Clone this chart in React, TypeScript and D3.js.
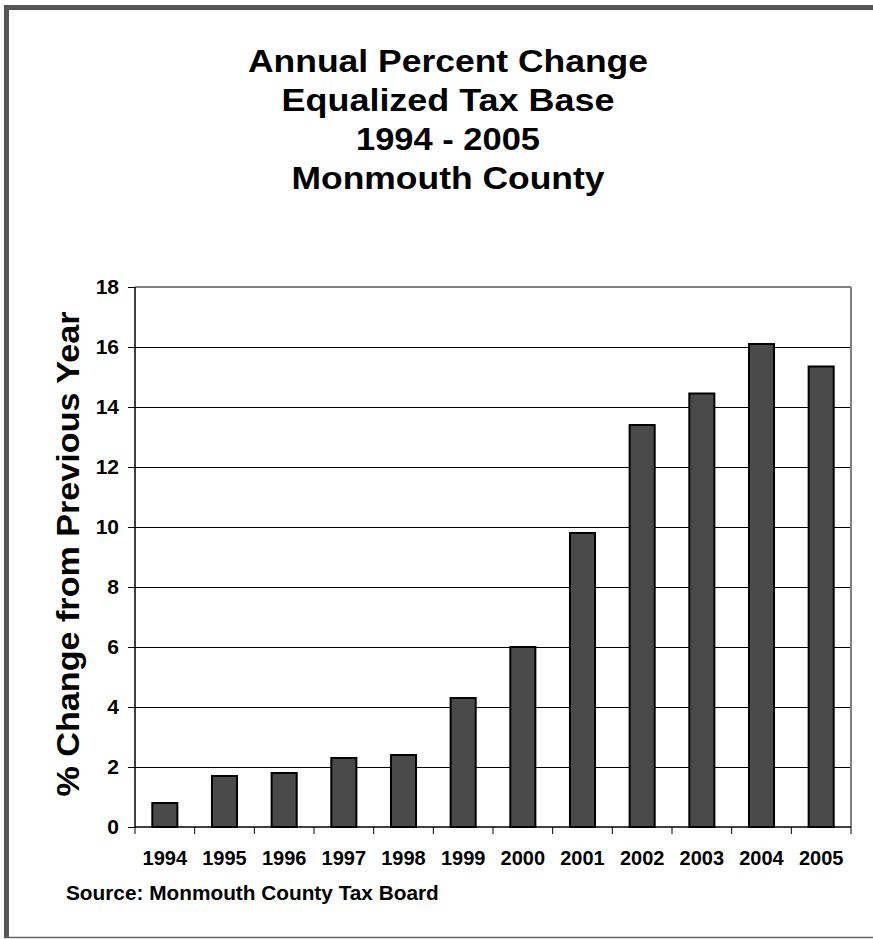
import React, { useEffect, useRef } from "react";
import * as d3 from "d3";

// data
const years = ["1994", "1995", "1996", "1997", "1998", "1999", "2000", "2001", "2002", "2003", "2004", "2005"];
const pctChange = [0.8, 1.7, 1.8, 2.3, 2.4, 4.3, 6.0, 9.8, 13.4, 14.45, 16.1, 15.35];
const yTicks = [0, 2, 4, 6, 8, 10, 12, 14, 16, 18];
const titleLines = ["Annual Percent Change", "Equalized Tax Base", "1994 - 2005", "Monmouth County"];
const yLabel = "% Change from Previous Year";
const sourceNote = "Source: Monmouth County Tax Board";

const FONT = "'Liberation Sans', Arial, Helvetica, sans-serif";

const App = () => {
    const svgRef = useRef(null);

    useEffect(() => {
        const svg = d3.select(svgRef.current);
        svg.selectAll("*").remove();

        const width = 873;
        const height = 939;
        const margin = { top: 287, right: 22, bottom: 112, left: 135 };
        const innerW = width - margin.left - margin.right;
        const innerH = height - margin.top - margin.bottom;

        svg.append("rect").attr("width", width).attr("height", height).attr("fill", "#fff");

        // outer frame (thick top/left, thin bottom)
        svg.append("rect").attr("x", 4).attr("y", 5).attr("width", 5).attr("height", 933).attr("fill", "#555");
        svg.append("rect").attr("x", 4).attr("y", 5).attr("width", width).attr("height", 5).attr("fill", "#555");
        svg.append("line")
            .attr("x1", 4).attr("x2", width)
            .attr("y1", 937.5).attr("y2", 937.5)
            .attr("stroke", "#666").attr("stroke-width", 1.5);

        // title
        const titleW = [400, 333, 184, 313];
        svg.append("g")
            .selectAll("text")
            .data(titleLines)
            .enter()
            .append("text")
            .attr("x", 448)
            .attr("y", (d, i) => 72 + i * 39)
            .attr("text-anchor", "middle")
            .attr("font-family", FONT)
            .attr("font-weight", "bold")
            .attr("font-size", 32)
            .attr("textLength", (d, i) => titleW[i])
            .attr("lengthAdjust", "spacingAndGlyphs")
            .text((d) => d);

        const g = svg.append("g").attr("transform", `translate(${margin.left},${margin.top})`);

        const x = d3.scaleBand().domain(years).range([0, innerW]).paddingInner(0.58).paddingOuter(0.29);
        const xb = d3.scaleLinear().domain([0, years.length]).range([0, innerW]);
        const y = d3.scaleLinear().domain([0, 18]).range([innerH, 0]);

        // gridlines
        g.selectAll(".grid")
            .data(yTicks.filter((t) => t > 0 && t < 18))
            .enter()
            .append("line")
            .attr("x1", 0).attr("x2", innerW)
            .attr("y1", (d) => y(d) + 0.5).attr("y2", (d) => y(d) + 0.5)
            .attr("stroke", "#000").attr("stroke-width", 1);

        // plot frame top / right
        g.append("line").attr("x1", 0).attr("x2", innerW).attr("y1", 0).attr("y2", 0)
            .attr("stroke", "#808080").attr("stroke-width", 2);
        g.append("line").attr("x1", innerW).attr("x2", innerW).attr("y1", 0).attr("y2", innerH)
            .attr("stroke", "#808080").attr("stroke-width", 2);

        // bars
        g.selectAll(".bar")
            .data(pctChange)
            .enter()
            .append("rect")
            .attr("x", (d, i) => x(years[i]))
            .attr("y", (d) => y(d))
            .attr("width", x.bandwidth())
            .attr("height", (d) => innerH - y(d))
            .attr("fill", "#4a4a4a")
            .attr("stroke", "#000")
            .attr("stroke-width", 2);

        // y axis
        const yAxis = d3.axisLeft(y).tickValues(yTicks).tickSize(7).tickPadding(9);
        const ya = g.append("g").call(yAxis);
        ya.select(".domain").attr("stroke", "#000").attr("stroke-width", 1.5).attr("d", `M0,0V${innerH}`);
        ya.selectAll(".tick line").attr("stroke", "#000").attr("stroke-width", 1);
        ya.selectAll("text")
            .attr("font-family", FONT).attr("font-weight", "bold").attr("font-size", 21).attr("fill", "#000");

        // x axis: ticks at category boundaries
        g.append("line").attr("x1", 0).attr("x2", innerW).attr("y1", innerH).attr("y2", innerH)
            .attr("stroke", "#000").attr("stroke-width", 1.5);
        g.selectAll(".xtick")
            .data(d3.range(years.length + 1))
            .enter()
            .append("line")
            .attr("x1", (d) => xb(d)).attr("x2", (d) => xb(d))
            .attr("y1", innerH).attr("y2", innerH + 7)
            .attr("stroke", "#000").attr("stroke-width", 1);
        g.selectAll(".xlabel")
            .data(years)
            .enter()
            .append("text")
            .attr("x", (d) => x(d) + x.bandwidth() / 2)
            .attr("y", innerH + 38)
            .attr("text-anchor", "middle")
            .attr("font-family", FONT).attr("font-weight", "bold").attr("font-size", 20)
            .text((d) => d);

        // y label
        svg.append("text")
            .attr("transform", `translate(79,554) rotate(-90)`)
            .attr("text-anchor", "middle")
            .attr("font-family", FONT).attr("font-weight", "bold").attr("font-size", 31)
            .attr("textLength", 485)
            .attr("lengthAdjust", "spacingAndGlyphs")
            .text(yLabel);

        // source
        svg.append("text")
            .attr("x", 66).attr("y", 900)
            .attr("font-family", FONT).attr("font-weight", "bold").attr("font-size", 20.8)
            .text(sourceNote);
    }, []);

    return (
        <div style={{ position: "absolute", top: 0, left: 0 }}>
            <svg ref={svgRef} width={873} height={939} style={{ display: "block" }}></svg>
        </div>
    );
};

export default App;
